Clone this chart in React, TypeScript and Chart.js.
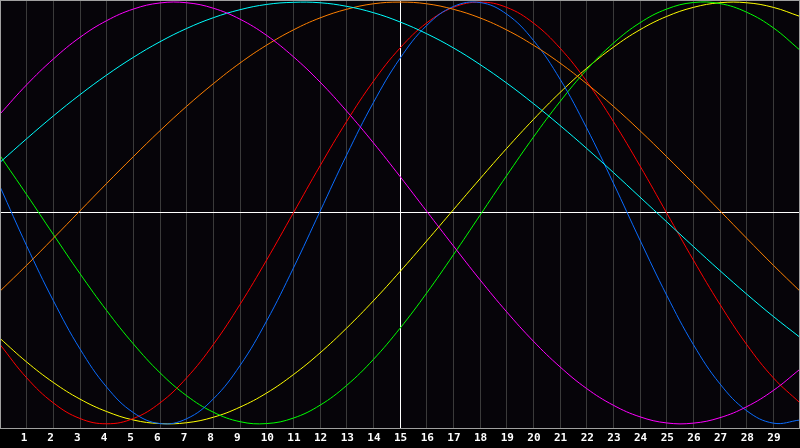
import React, { useEffect, useRef } from "react";
import { Chart, registerables } from "chart.js";

Chart.register(...registerables);

// x positions 0..30, labels shown for 1..29
const xs = [
  0, 1, 2, 3, 4, 5, 6, 7, 8, 9, 10, 11, 12, 13, 14, 15, 16, 17, 18, 19, 20,
  21, 22, 23, 24, 25, 26, 27, 28, 29, 30,
];

// values, one per x position
const magenta = [
  0.469, 0.608, 0.73, 0.833, 0.912, 0.967, 0.996, 0.997, 0.971, 0.919, 0.842,
  0.741, 0.621, 0.483, 0.333, 0.173, 0.008, -0.156, -0.317, -0.469, -0.608,
  -0.73, -0.833, -0.912, -0.967, -0.996, -0.997, -0.971, -0.919, -0.842, -0.741,
];
const cyan = [
  0.24, 0.352, 0.46, 0.561, 0.654, 0.738, 0.812, 0.875, 0.926, 0.964, 0.989,
  0.999, 0.997, 0.98, 0.95, 0.906, 0.85, 0.783, 0.704, 0.616, 0.519, 0.415,
  0.306, 0.192, 0.075, -0.042, -0.159, -0.274, -0.385, -0.491, -0.59,
];
const orange = [
  -0.371, -0.248, -0.12, 0.01, 0.14, 0.267, 0.39, 0.506, 0.613, 0.711, 0.796,
  0.868, 0.925, 0.966, 0.992, 1.0, 0.992, 0.966, 0.925, 0.868, 0.796, 0.711,
  0.613, 0.506, 0.39, 0.267, 0.14, 0.01, -0.12, -0.248, -0.371,
];
const red = [
  -0.624, -0.782, -0.901, -0.975, -1.0, -0.975, -0.901, -0.782, -0.624, -0.434,
  -0.223, 0.0, 0.223, 0.434, 0.624, 0.782, 0.901, 0.975, 1.0, 0.975, 0.901,
  0.782, 0.624, 0.434, 0.223, 0.0, -0.223, -0.434, -0.624, -0.782, -0.901,
];
const blue = [
  0.125, -0.156, -0.416, -0.645, -0.826, -0.947, -0.999, -0.976, -0.882, -0.724,
  -0.512, -0.262, 0.007, 0.275, 0.523, 0.733, 0.889, 0.979, 0.998, 0.943,
  0.819, 0.635, 0.403, 0.142, -0.129, -0.39, -0.624, -0.811, -0.938, -0.997,
  -0.982,
];
const green = [
  0.272, 0.087, -0.102, -0.288, -0.463, -0.621, -0.758, -0.867, -0.945, -0.99,
  -0.999, -0.973, -0.912, -0.818, -0.695, -0.547, -0.38, -0.199, -0.011, 0.177,
  0.359, 0.528, 0.679, 0.805, 0.902, 0.967, 0.998, 0.993, 0.952, 0.878, 0.772,
];
const yellow = [
  -0.595, -0.707, -0.804, -0.883, -0.942, -0.982, -0.999, -0.995, -0.969,
  -0.921, -0.854, -0.767, -0.664, -0.546, -0.417, -0.278, -0.133, 0.015, 0.162,
  0.306, 0.443, 0.571, 0.686, 0.786, 0.869, 0.932, 0.975, 0.997, 0.997, 0.975,
  0.932,
];

const series = [
  { name: "magenta", values: magenta, color: "#ff00ff" },
  { name: "cyan", values: cyan, color: "#00ffff" },
  { name: "orange", values: orange, color: "#ff8000" },
  { name: "blue", values: blue, color: "#0a6cff" },
  { name: "red", values: red, color: "#ff0000" },
  { name: "green", values: green, color: "#00ff00" },
  { name: "yellow", values: yellow, color: "#ffff00" },
];

// dark plot background and the grey frame round it
const framePlugin = {
  id: "frame",
  beforeDraw(chart: any) {
    const { ctx, chartArea: a } = chart;
    ctx.save();
    ctx.fillStyle = "#000000";
    ctx.fillRect(0, 0, chart.width, chart.height);
    ctx.fillStyle = "#060409";
    ctx.fillRect(a.left, a.top, a.right - a.left, a.bottom - a.top);
    ctx.restore();
  },
  afterDatasetsDraw(chart: any) {
    const { ctx, chartArea: a } = chart;
    ctx.save();
    ctx.strokeStyle = "#a0a0a0";
    ctx.lineWidth = 1;
    ctx.strokeRect(a.left + 0.5, a.top + 0.5, a.right - a.left - 1, a.bottom - a.top);
    ctx.restore();
  },
};

export default function App() {
  const canvasRef = useRef<HTMLCanvasElement>(null);
  const chartRef = useRef<Chart | null>(null);

  useEffect(() => {
    document.body.style.margin = "0";
    if (!canvasRef.current) return;
    const ctx = canvasRef.current.getContext("2d");
    if (!ctx) return;

    chartRef.current = new Chart(ctx, {
      type: "line",
      data: {
        datasets: series.map((s) => ({
          label: s.name,
          data: xs.map((x, i) => ({ x, y: s.values[i] })),
          borderColor: s.color,
          borderWidth: 1,
          pointRadius: 0,
          fill: false,
          tension: 0.4,
        })),
      },
      options: {
        animation: false,
        responsive: true,
        maintainAspectRatio: false,
        layout: { padding: 0 },
        plugins: {
          legend: { display: false },
          tooltip: { enabled: false },
        },
        scales: {
          x: {
            type: "linear",
            min: 0,
            max: 30,
            afterFit: (s: any) => {
              s.height = 20;
              s.paddingLeft = 0;
              s.paddingRight = 0;
            },
            border: { display: false },
            grid: {
              drawTicks: false,
              lineWidth: 1,
              color: (c: any) => {
                const v = c.tick?.value;
                if (v === 15) return "#ffffff";
                if (v === 0 || v === 30) return "rgba(0,0,0,0)";
                return "#3a3a3a";
              },
            },
            ticks: {
              stepSize: 1,
              autoSkip: false,
              maxRotation: 0,
              align: "start",
              labelOffset: -6,
              padding: 4,
              color: "#ffffff",
              font: { family: "DejaVu Sans Mono", size: 11, weight: "bold" },
              callback: (v: any) => (v >= 1 && v <= 29 ? String(v) : ""),
            },
          },
          y: {
            min: -1.02,
            max: 1.01,
            afterFit: (s: any) => {
              s.width = 0;
              s.paddingTop = 0;
              s.paddingBottom = 0;
            },
            afterBuildTicks: (s: any) => {
              s.ticks = [{ value: 0 }];
            },
            border: { display: false },
            grid: {
              drawTicks: false,
              color: "#ffffff",
              lineWidth: 1,
            },
            ticks: { display: false },
          },
        },
      },
      plugins: [framePlugin],
    });

    return () => {
      if (chartRef.current) {
        chartRef.current.destroy();
        chartRef.current = null;
      }
    };
  }, []);

  return (
    <div style={{ width: 800, height: 448, background: "#000" }}>
      <canvas ref={canvasRef} />
    </div>
  );
}
